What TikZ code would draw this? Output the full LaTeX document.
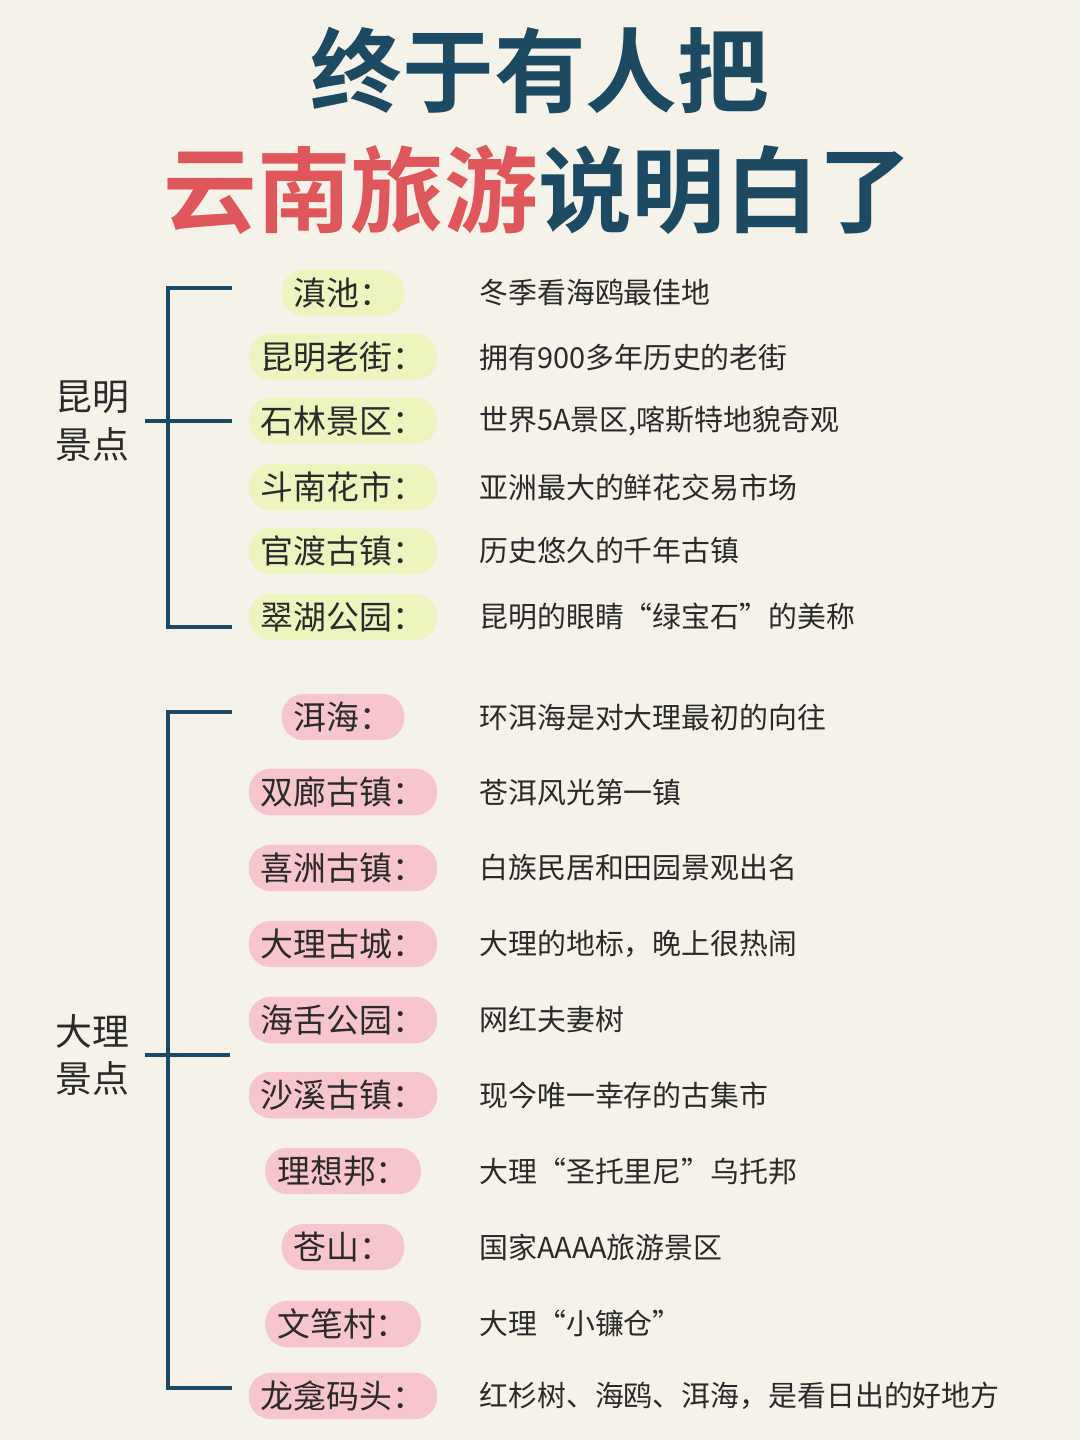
\documentclass[tikz,border=0pt]{standalone}
\usepackage{fontspec}
\setmainfont{Noto Sans CJK SC}
\newfontfamily\cjkb{Noto Sans CJK SC Bold}
\definecolor{bg}{HTML}{F5F2EA}
\definecolor{navy}{HTML}{1D4A63}
\definecolor{tred}{HTML}{E0575B}
\definecolor{ylw}{HTML}{EDF4BE}
\definecolor{pnk}{HTML}{F7C6CD}
\definecolor{txt}{HTML}{2A2A2A}
\begin{document}
\begin{tikzpicture}[x=1bp,y=-1bp,
  brk/.style={draw=navy,line width=3.5bp},
  namey/.style={fill=ylw,rounded corners=22bp,inner xsep=12bp,inner ysep=8bp,font=\fontsize{33}{36}\selectfont,text=txt},
  namep/.style={fill=pnk,rounded corners=22bp,inner xsep=12bp,inner ysep=8bp,font=\fontsize{33}{36}\selectfont,text=txt},
  desc/.style={anchor=west,font=\fontsize{29}{32}\selectfont,text=txt},
  grp/.style={font=\fontsize{37}{40}\selectfont,text=txt,align=center}]
\fill[bg] (0,0) rectangle (1080,1440);
\useasboundingbox (0,0) rectangle (1080,1440);
\node[font=\cjkb\fontsize{92}{96}\selectfont,text=navy] (t1) at (540,70) {终于有人把};
\node[font=\cjkb\fontsize{94}{96}\selectfont] (t2) at (538,190) {\textcolor{tred}{云南旅游}\textcolor{navy}{说明白了}};
% Kunming bracket
\coordinate (k1) at (232,288); \coordinate (k1b) at (168,288);
\coordinate (k2) at (232,627); \coordinate (k2b) at (168,627);
\coordinate (km) at (232,421); \coordinate (kl) at (145,421);
\draw[brk] (k1) -- (k1b) -- (k2b) -- (k2);
\draw[brk] (kl) -- (km);
\node[grp] (kg) at (92,421) {昆明\\[8bp]景点};
% Dali bracket
\coordinate (d1) at (232,712); \coordinate (d1b) at (168,712);
\coordinate (d2) at (232,1388); \coordinate (d2b) at (168,1388);
\coordinate (dm) at (230,1055); \coordinate (dl) at (145,1055);
\draw[brk] (d1) -- (d1b) -- (d2b) -- (d2);
\draw[brk] (dl) -- (dm);
\node[grp] (dg) at (92,1055) {大理\\[8bp]景点};
% Kunming items
\foreach \y/\n/\d [count=\i] in {293/滇池：/冬季看海鸥最佳地,357/昆明老街：/拥有900多年历史的老街,421/石林景区：/{世界5A景区,喀斯特地貌奇观},487/斗南花市：/亚洲最大的鲜花交易市场,551/官渡古镇：/历史悠久的千年古镇,617/翠湖公园：/昆明的眼睛“绿宝石”的美称}{
  \node[namey] (kn\i) at (343,\y) {\n};
  \node[desc] (kd\i) at (476,\y) {\d};
}
\foreach \y/\n/\d [count=\i] in {717/洱海：/环洱海是对大理最初的向往,792/双廊古镇：/苍洱风光第一镇,868/喜洲古镇：/白族民居和田园景观出名,944/大理古城：/{大理的地标，晚上很热闹},1020/海舌公园：/网红夫妻树,1095/沙溪古镇：/现今唯一幸存的古集市,1171/理想邦：/大理“圣托里尼”乌托邦,1247/苍山：/国家AAAA旅游景区,1324/文笔村：/大理“小镰仓”,1396/龙龛码头：/{红杉树、海鸥、洱海，是看日出的好地方}}{
  \node[namep] (dn\i) at (343,\y) {\n};
  \node[desc] (dd\i) at (476,\y) {\d};
}
\end{tikzpicture}
\end{document}
